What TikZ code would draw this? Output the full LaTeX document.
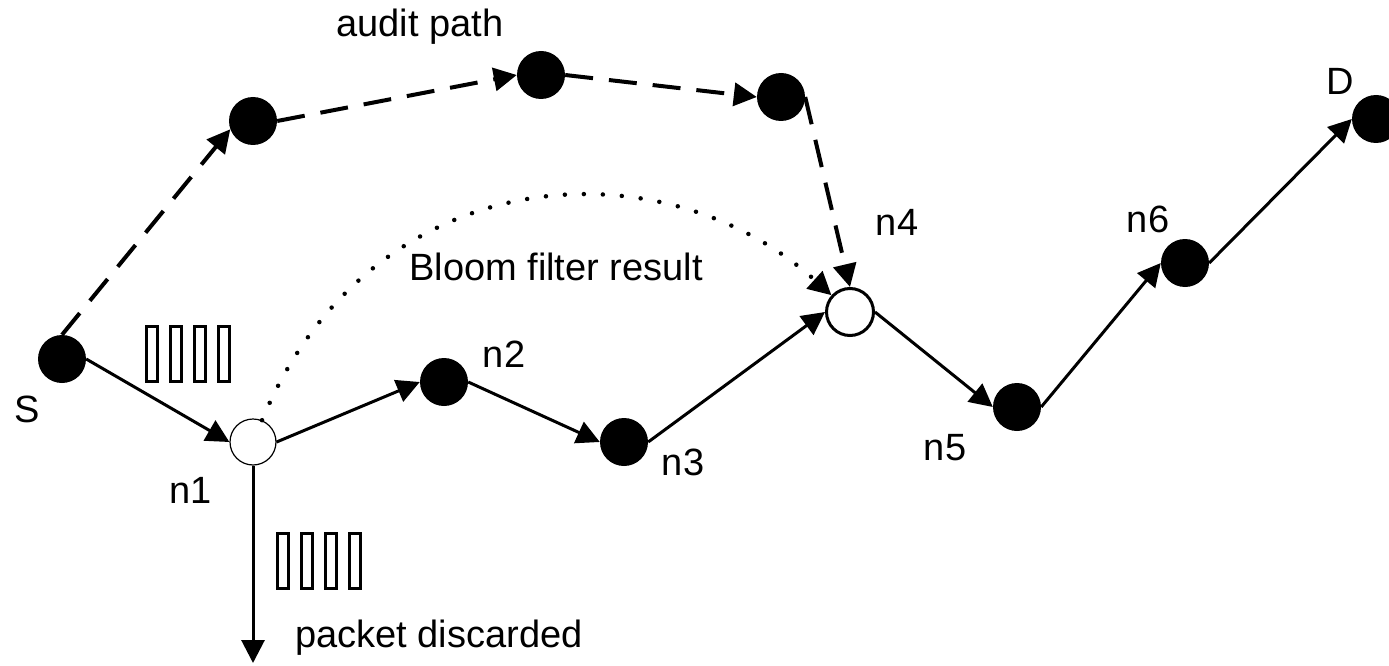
\documentclass[tikz,border=0pt]{standalone}
\usepackage{fontspec}
\setmainfont{Liberation Sans}
\usetikzlibrary{arrows.meta}
\begin{document}
\begin{tikzpicture}[x=1pt,y=-1pt,
  dot/.style={circle,fill=black,minimum size=48pt,inner sep=0pt},
  odot/.style={circle,draw=black,fill=white,inner sep=0pt},
  lbl/.style={anchor=base,inner sep=0pt,font=\fontsize{38}{44}\selectfont},
  pkt/.style={draw,line width=3pt,minimum width=11pt,minimum height=55pt,inner sep=0pt},
  arr/.style={line width=3pt,-{Triangle[length=23pt,width=23pt]}},
  audit/.style={line width=4pt,dash pattern=on 28pt off 16pt,-{Triangle[length=23pt,width=23pt]}},
  bloom/.style={line width=4.5pt,line cap=round,dash pattern=on 0pt off 19pt,-{Triangle[length=23pt,width=23pt]}}
]
\useasboundingbox (0,0) rectangle (1389,666);
% nodes
\node[dot] (S)  at (62,359) {};
\node[odot,minimum size=46pt,line width=1.2pt] (n1) at (253,442) {};
\node[dot] (n2) at (444,382) {};
\node[dot] (n3) at (624,442) {};
\node[odot,minimum size=47pt,line width=3pt] (n4) at (850,312) {};
\node[dot] (n5) at (1017,407) {};
\node[dot] (n6) at (1185,263) {};
\node[dot] (D)  at (1376,119) {};
\node[dot] (a1) at (253,121) {};
\node[dot] (a2) at (541,75) {};
\node[dot] (a3) at (781,97) {};
\coordinate (drop) at (253,663);
% packets
\node[pkt] (p1) at (152,354) {};
\node[pkt] (p2) at (176,354) {};
\node[pkt] (p3) at (200,354) {};
\node[pkt] (p4) at (224,354) {};
\node[pkt] (q1) at (283,561) {};
\node[pkt] (q2) at (307,561) {};
\node[pkt] (q3) at (331,561) {};
\node[pkt] (q4) at (355,561) {};
% labels
\node[lbl] (lS)  at (27,422) {S};
\node[lbl] (l1)  at (191,503) {n1};
\node[lbl] (l2)  at (504,367) {n2};
\node[lbl] (l3)  at (683,475) {n3};
\node[lbl] (l4)  at (897,235) {n4};
\node[lbl] (l5)  at (945,460) {n5};
\node[lbl] (l6)  at (1148,232) {n6};
\node[lbl] (lD)  at (1340,95) {D};
\node[lbl] (lau) at (420,37) {audit path};
\node[lbl] (lbf) at (556,280) {Bloom filter result};
\node[lbl,anchor=base west] (lpd) at (295,647) {packet discarded};
% main path
\draw[arr] (S.east) -- (n1.west);
\draw[arr] (n1.east) -- (n2.west);
\draw[arr] (n2.east) -- (n3.west);
\draw[arr] (n3.east) -- (n4.west);
\draw[arr] (n4.east) -- (n5.west);
\draw[arr] (n5.east) -- (n6.west);
\draw[arr] (n6.east) -- (D.west);
\draw[arr] (n1.south) -- (drop);
% audit path
\draw[audit] (S.north) -- (a1.200);
\draw[audit] (a1.east) -- (a2.west);
\draw[audit] (a2.east) -- (a3.west);
\draw[audit] (a3.east) -- (n4.north);
% bloom filter result
\draw[bloom] (n1) .. controls (370,160) and (660,140) .. (n4);
\end{tikzpicture}
\end{document}
